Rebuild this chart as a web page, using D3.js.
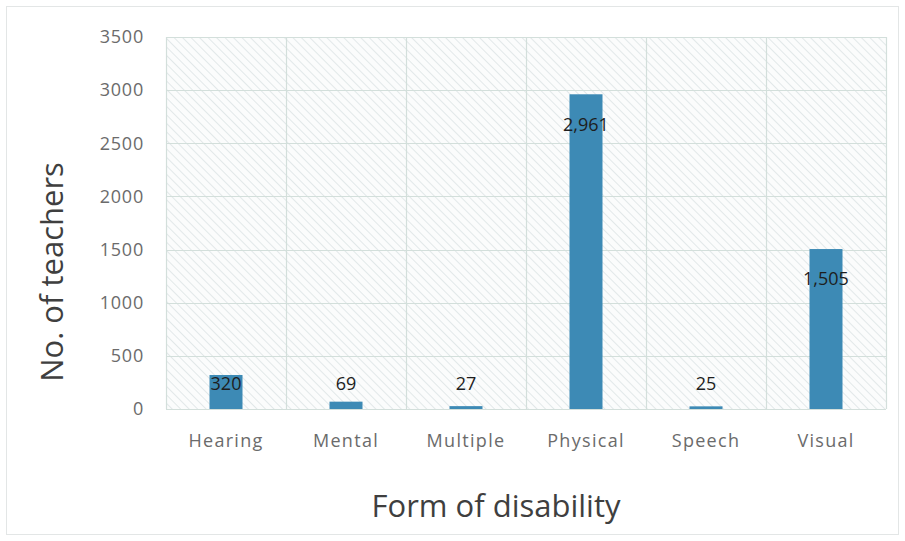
<!DOCTYPE html>
<html>
<head>
<meta charset="utf-8">
<script src="https://cdn.jsdelivr.net/npm/d3@7"></script>
<style>
  html, body { margin: 0; padding: 0; background: #fff; }
  svg { display: block; }
</style>
</head>
<body>
<svg id="chart" width="905" height="541"></svg>
<script>
// Teachers with disabilities, by form of disability
const categories = ["Hearing", "Mental", "Multiple", "Physical", "Speech", "Visual"];
const teachers = [320, 69, 27, 2961, 25, 1505];
const yTicks = [0, 500, 1000, 1500, 2000, 2500, 3000, 3500];

const W = 905, H = 541;
const margin = { left: 166, right: 19, top: 37, bottom: 132 };
const svg = d3.select("#chart");
const font = "'Open Sans', Lato, sans-serif";

// outer chart frame
svg.append("rect")
  .attr("x", 6.5).attr("y", 6.5)
  .attr("width", W - 13).attr("height", H - 13)
  .attr("fill", "#fff").attr("stroke", "#e3e6e6");

// diagonal hatch fill for the plot area
const defs = svg.append("defs");
const pat = defs.append("pattern")
  .attr("id", "hatch")
  .attr("patternUnits", "userSpaceOnUse")
  .attr("width", 6).attr("height", 6)
  .attr("patternTransform", "rotate(-45)");
pat.append("rect").attr("width", 6).attr("height", 6).attr("fill", "#fbfcfc");
pat.append("line")
  .attr("x1", 0).attr("y1", 0).attr("x2", 0).attr("y2", 6)
  .attr("stroke", "#dce3e5").attr("stroke-width", 1.6);

const x = d3.scaleBand()
  .domain(categories)
  .range([margin.left, W - margin.right])
  .paddingInner(0).paddingOuter(0);

const y = d3.scaleLinear()
  .domain([0, 3500])
  .range([H - margin.bottom, margin.top]);

svg.append("rect")
  .attr("x", margin.left).attr("y", margin.top)
  .attr("width", W - margin.left - margin.right)
  .attr("height", H - margin.top - margin.bottom)
  .attr("fill", "url(#hatch)");

// horizontal gridlines
svg.append("g").selectAll("line").data(yTicks).join("line")
  .attr("x1", margin.left).attr("x2", W - margin.right)
  .attr("y1", d => Math.round(y(d)) + 0.5).attr("y2", d => Math.round(y(d)) + 0.5)
  .attr("stroke", "#d3dfdb").attr("stroke-width", 1.2);

// vertical gridlines at category boundaries
const bounds = categories.map(c => x(c)).concat([x.range()[1]]);
svg.append("g").selectAll("line").data(bounds).join("line")
  .attr("x1", d => Math.round(d) + 0.5).attr("x2", d => Math.round(d) + 0.5)
  .attr("y1", margin.top).attr("y2", H - margin.bottom)
  .attr("stroke", "#d3dfdb").attr("stroke-width", 1.2);

// bars
const barW = 33;
svg.append("g").selectAll("rect").data(categories).join("rect")
  .attr("x", c => x(c) + x.bandwidth() / 2 - barW / 2)
  .attr("y", (c, i) => y(teachers[i]))
  .attr("width", barW)
  .attr("height", (c, i) => y(0) - y(teachers[i]))
  .attr("fill", "#3d8ab5");

// value labels
const fmt = d3.format(",");
svg.append("g").selectAll("text").data(categories).join("text")
  .attr("x", c => x(c) + x.bandwidth() / 2)
  .attr("y", (c, i) => Math.min(y(teachers[i]) + 30, y(0) - 25))
  .attr("dy", "0.35em")
  .attr("text-anchor", "middle")
  .attr("font-family", font).attr("font-size", 18)
  .attr("fill", "#1e1e1e")
  .text((c, i) => fmt(teachers[i]));

// y axis tick labels
const yAxis = d3.axisLeft(y).tickValues(yTicks).tickFormat(d3.format("d"))
  .tickSize(0).tickPadding(22);
const gy = svg.append("g")
  .attr("transform", `translate(${margin.left},0)`)
  .call(yAxis);
gy.select(".domain").remove();
gy.selectAll("text")
  .attr("font-family", font).attr("font-size", 18)
  .attr("letter-spacing", 0.8)
  .attr("fill", "#6b6b6b");

// x axis tick labels
const xAxis = d3.axisBottom(x).tickSize(0).tickPadding(25);
const gx = svg.append("g")
  .attr("transform", `translate(0,${H - margin.bottom})`)
  .call(xAxis);
gx.select(".domain").remove();
gx.selectAll("text")
  .attr("font-family", font).attr("font-size", 18)
  .attr("letter-spacing", 1.3)
  .attr("fill", "#6b6b6b");

// axis titles
svg.append("text")
  .attr("x", 496)
  .attr("y", 517)
  .attr("text-anchor", "middle")
  .attr("font-family", font).attr("font-size", 31)
  .attr("fill", "#3f3f3f")
  .text("Form of disability");

svg.append("text")
  .attr("transform", "translate(63,272) rotate(-90)")
  .attr("text-anchor", "middle")
  .attr("font-family", font).attr("font-size", 31)
  .attr("fill", "#3f3f3f")
  .text("No. of teachers");
</script>
</body>
</html>
